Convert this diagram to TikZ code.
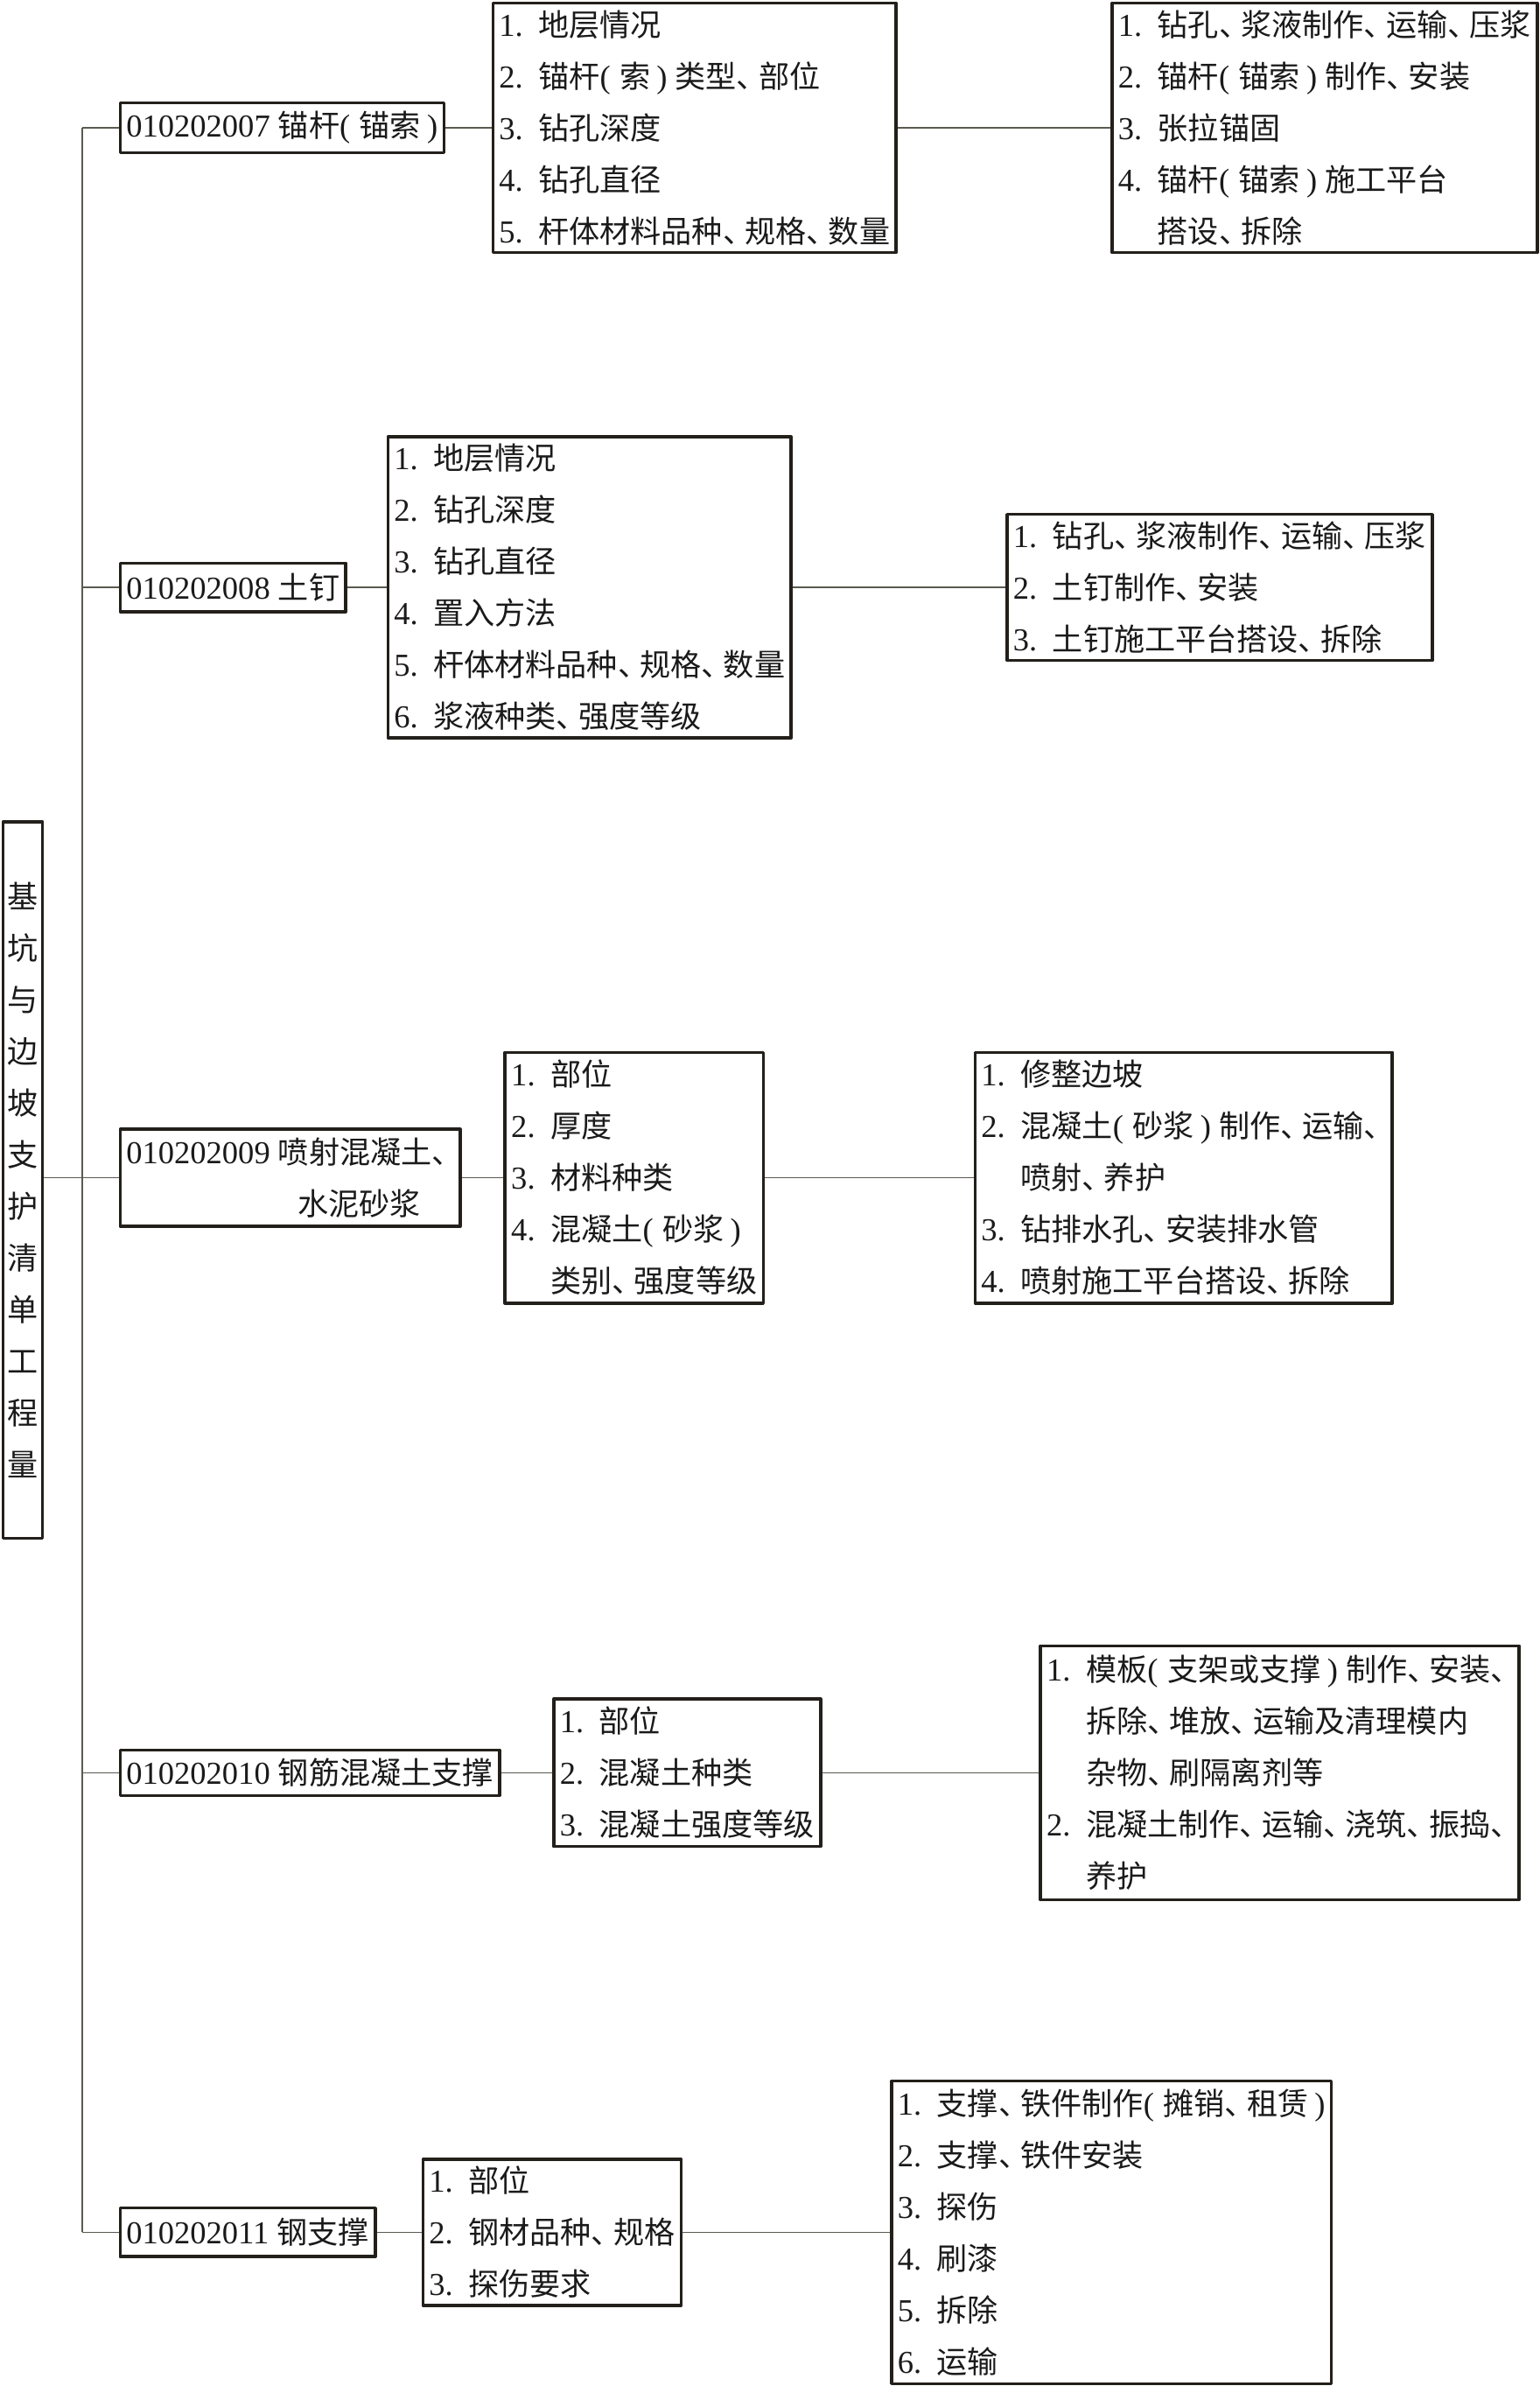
\documentclass[tikz,border=0pt]{standalone}
\usepackage{fontspec}
\setmainfont{Liberation Serif}[Scale=1.04]
\newfontfamily\cjkfont{Noto Sans CJK SC}
% CJK characters are set in the CJK family, the rest in the main font
\XeTeXinterchartokenstate=1
\newXeTeXintercharclass\cjkclass
\newXeTeXintercharclass\dunclass
\count255="3000
\loop
  \XeTeXcharclass\count255=\cjkclass
  \advance\count255 by 1
\ifnum\count255<"3040 \repeat
\count255="4E00
\loop
  \XeTeXcharclass\count255=\cjkclass
  \advance\count255 by 1
\ifnum\count255<"A000 \repeat
\XeTeXcharclass"3001=\dunclass
\XeTeXinterchartoks 0 \cjkclass = {\cjkfont}
\XeTeXinterchartoks 4095 \cjkclass = {\cjkfont}
\XeTeXinterchartoks \cjkclass 0 = {\rmfamily}
\XeTeXinterchartoks \cjkclass 4095 = {\rmfamily}
\XeTeXinterchartoks 0 \dunclass = {\cjkfont}
\XeTeXinterchartoks 4095 \dunclass = {\cjkfont}
\XeTeXinterchartoks \dunclass \cjkclass = {\kern-2.8pt}
\XeTeXinterchartoks \dunclass 0 = {\kern-2.8pt\rmfamily}
\XeTeXinterchartoks \dunclass 4095 = {\kern-2.8pt\rmfamily}
\usetikzlibrary{positioning}
\definecolor{boxcol}{HTML}{231F1A}
\definecolor{linkcol}{HTML}{5A5A50}
\definecolor{textcol}{HTML}{1A1A1A}
\newcommand{\itm}[1]{\makebox[12.8pt][l]{#1.}}
\newcommand{\ind}{\hspace*{12.8pt}}
\newcommand{\lpar}{(\hspace{3pt}}
\newcommand{\rpar}{\hspace{2pt})}
\begin{document}
\begin{tikzpicture}[x=0.01739cm, y=-0.01739cm, font=\fontsize{10}{16.8}\selectfont, line join=round,
  box/.style={draw=boxcol, line width=1pt, align=left, inner xsep=2pt, inner ysep=0pt, anchor=west, text=textcol},
  link/.style={draw=linkcol, line width=0.4pt}]
\useasboundingbox (0,0) rectangle (1012,1568);
% title
\node[box, anchor=center, align=center, inner xsep=0pt, minimum width=12.9pt, minimum height=232.9pt] (title) at (15,775.5)
  {基\\坑\\与\\边\\坡\\支\\护\\清\\单\\工\\程\\量};
\coordinate (trunk) at (54,84);
% 010202007
\node[box, minimum height=16.3pt] (item7) at (78,84) {010202007 锚杆\lpar 锚索\rpar};
\node[box, minimum height=81.1pt] (feat7) at (323,84)
  {\itm{1}地层情况\\ \itm{2}锚杆\lpar 索\rpar\ 类型、部位\\ \itm{3}钻孔深度\\ \itm{4}钻孔直径\\ \itm{5}杆体材料品种、规格、数量};
\node[box, minimum height=81.1pt] (work7) at (730,84)
  {\itm{1}钻孔、浆液制作、运输、压浆\\ \itm{2}锚杆\lpar 锚索\rpar\ 制作、安装\\ \itm{3}张拉锚固\\ \itm{4}锚杆\lpar 锚索\rpar\ 施工平台\\ \ind 搭设、拆除};
% 010202008
\node[box, minimum height=15.8pt] (item8) at (78,386) {010202008 土钉};
\node[box, minimum height=97.9pt] (feat8) at (254,386)
  {\itm{1}地层情况\\ \itm{2}钻孔深度\\ \itm{3}钻孔直径\\ \itm{4}置入方法\\ \itm{5}杆体材料品种、规格、数量\\ \itm{6}浆液种类、强度等级};
\node[box, minimum height=47.5pt] (work8) at (661,386)
  {\itm{1}钻孔、浆液制作、运输、压浆\\ \itm{2}土钉制作、安装\\ \itm{3}土钉施工平台搭设、拆除};
% 010202009
\node[box, minimum height=31.6pt] (item9) at (78,774) {010202009 喷射混凝土、\\ \hspace*{55.7pt}水泥砂浆};
\node[box, minimum height=81.6pt] (feat9) at (331,774)
  {\itm{1}部位\\ \itm{2}厚度\\ \itm{3}材料种类\\ \itm{4}混凝土\lpar 砂浆\rpar\\ \ind 类别、强度等级};
\node[box, minimum height=81.6pt] (work9) at (640,774)
  {\itm{1}修整边坡\\ \itm{2}混凝土\lpar 砂浆\rpar\ 制作、运输、\\ \ind 喷射、养护\\ \itm{3}钻排水孔、安装排水管\\ \itm{4}喷射施工平台搭设、拆除};
% 010202010
\node[box, minimum height=14.8pt] (item10) at (78,1165) {010202010 钢筋混凝土支撑};
\node[box, minimum height=48pt] (feat10) at (363,1165)
  {\itm{1}部位\\ \itm{2}混凝土种类\\ \itm{3}混凝土强度等级};
\node[box, minimum height=82.6pt] (work10) at (683,1165)
  {\itm{1}模板\lpar 支架或支撑\rpar\ 制作、安装、\\ \ind 拆除、堆放、运输及清理模内\\ \ind 杂物、刷隔离剂等\\ \itm{2}混凝土制作、运输、浇筑、振捣、\\ \ind 养护};
% 010202011
\node[box, minimum height=15.8pt] (item11) at (78,1467) {010202011 钢支撑};
\node[box, minimum height=47.5pt] (feat11) at (277,1467)
  {\itm{1}部位\\ \itm{2}钢材品种、规格\\ \itm{3}探伤要求};
\node[box, minimum height=98.4pt] (work11) at (585,1467)
  {\itm{1}支撑、铁件制作\lpar 摊销、租赁\rpar\\ \itm{2}支撑、铁件安装\\ \itm{3}探伤\\ \itm{4}刷漆\\ \itm{5}拆除\\ \itm{6}运输};
% connectors
\draw[link] (trunk) -- (trunk |- item11.west);
\draw[link] (title.east |- item9.west) -- (item9.west);
\foreach \n in {7,...,11}{
  \draw[link] (trunk |- item\n.west) -- (item\n.west);
  \draw[link] (item\n.east) -- (feat\n.west);
  \draw[link] (feat\n.east) -- (work\n.west);
}
\end{tikzpicture}
\end{document}
